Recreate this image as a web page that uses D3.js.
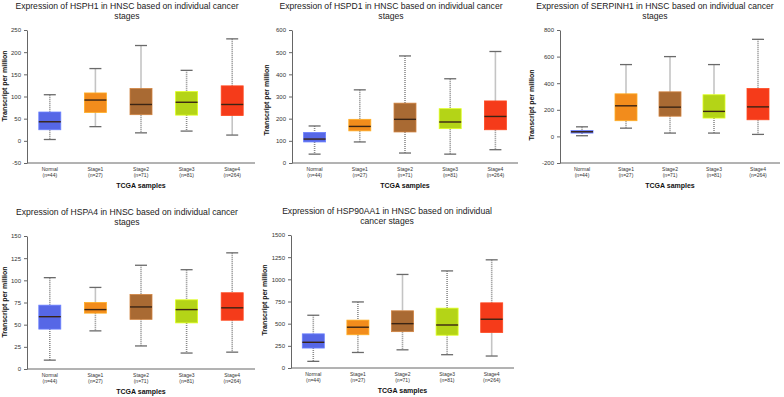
<!DOCTYPE html>
<html>
<head>
<meta charset="utf-8">
<script src="https://cdnjs.cloudflare.com/ajax/libs/d3/7.8.5/d3.min.js"></script>
<style>
    body { margin: 0; background: #fff; }
    svg { display: block; font-family: "Liberation Sans", Arial, sans-serif; }
    .axis path, .axis line { stroke: #666; }
    .axis text { fill: #333; font-size: 6px; }
    .plot-title { font-size: 8.6px; fill: #222; text-anchor: middle; }
    .axis-title { font-size: 7px; font-weight: bold; fill: #111; text-anchor: middle; }
    .stage-label { font-size: 5px; fill: #333; text-anchor: middle; }
</style>
</head>
<body>
<div id="chart"></div>
<script>
// groups on the x axis
const stages = ['Normal', 'Stage1', 'Stage2', 'Stage3', 'Stage4'];
const sampleCounts = ['(n=44)', '(n=27)', '(n=71)', '(n=81)', '(n=264)'];
const stageColors = ['#5667e6', '#f28c1c', '#a96a33', '#b4d417', '#f53b1a'];

// box stats per stage: [min, q1, median, q3, max]
const hsph1Stats = [[3, 25, 43, 65, 104], [32, 64, 92, 108, 163], [18, 59, 82, 118, 215], [22, 58, 87, 111, 159], [13, 57, 82, 124, 230]];
const hspd1Stats = [[40, 95, 108, 138, 167], [95, 145, 165, 197, 330], [45, 140, 197, 270, 483], [40, 155, 185, 245, 380], [60, 150, 210, 280, 503]];
const serpinh1Stats = [[5, 25, 35, 45, 72], [62, 118, 230, 320, 540], [25, 152, 220, 335, 600], [25, 138, 188, 313, 540], [15, 125, 222, 360, 730]];
const hspa4Stats = [[10, 45, 59, 72, 103], [43, 63, 67, 75, 92], [26, 56, 70, 84, 117], [18, 52, 67, 78, 112], [19, 55, 69, 86, 131]];
const hsp90aa1Stats = [[75, 225, 290, 385, 595], [175, 375, 460, 540, 745], [205, 410, 500, 645, 1055], [150, 370, 485, 675, 1095], [135, 400, 550, 735, 1220]];

// y tick values
const hsph1Ticks = [-50, 0, 50, 100, 150, 200, 250];
const hspd1Ticks = [0, 100, 200, 300, 400, 500, 600];
const serpinh1Ticks = [-200, 0, 200, 400, 600, 800];
const hspa4Ticks = [0, 25, 50, 75, 100, 125, 150];
const hsp90aa1Ticks = [0, 250, 500, 750, 1000, 1250, 1500];

const hsph1Title = ['Expression of HSPH1 in HNSC based on individual cancer', 'stages'];
const hspd1Title = ['Expression of HSPD1 in HNSC based on individual cancer', 'stages'];
const serpinh1Title = ['Expression of SERPINH1 in HNSC based on individual cancer', 'stages'];
const hspa4Title = ['Expression of HSPA4 in HNSC based on individual cancer', 'stages'];
const hsp90aa1Title = ['Expression of HSP90AA1 in HNSC based on individual', 'cancer stages'];

class BoxPlot {
    constructor(_config, _data) {
        this.config = {
            svg: _config.svg,
            left: _config.left,
            right: _config.right,
            top: _config.top,
            bottom: _config.bottom,
            titleX: _config.titleX,
            titleY: _config.titleY,
            yLabelX: _config.yLabelX,
            yLabelY: _config.yLabelY,
            boxWidth: _config.boxWidth || 22,
            capWidth: _config.capWidth || 12
        }
        this.data = _data;
        this.initVis();
    }

    initVis() {
        const vis = this;
        const c = vis.config;

        vis.chart = c.svg.append('g');

        vis.xScale = d3.scaleBand()
            .domain(stages)
            .range([c.left, c.right]);

        vis.yScale = d3.scaleLinear()
            .domain(d3.extent(vis.data.ticks))
            .range([c.bottom, c.top]);

        vis.colorScale = d3.scaleOrdinal()
            .domain(stages)
            .range(stageColors);

        vis.yAxis = d3.axisLeft(vis.yScale)
            .tickValues(vis.data.ticks)
            .tickSize(3)
            .tickSizeOuter(0)
            .tickPadding(3)
            .tickFormat(d => d);

        vis.yAxisG = vis.chart.append('g')
            .attr('class', 'axis y-axis')
            .attr('transform', `translate(${c.left},0)`);

        vis.chart.append('line')
            .attr('class', 'x-axis-line')
            .attr('x1', c.left)
            .attr('x2', c.right)
            .attr('y1', c.bottom)
            .attr('y2', c.bottom)
            .attr('stroke', '#666');

        vis.chart.selectAll('.plot-title')
            .data(vis.data.title)
            .join('text')
            .attr('class', 'plot-title')
            .attr('x', c.titleX)
            .attr('y', (d, i) => c.titleY + i * 9.5)
            .text(d => d);

        vis.chart.append('text')
            .attr('class', 'axis-title')
            .attr('transform', `translate(${c.yLabelX},${c.yLabelY}) rotate(-90)`)
            .attr('dy', '0.35em')
            .text('Transcript per million');

        vis.chart.append('text')
            .attr('class', 'axis-title')
            .attr('x', (c.left + c.right) / 2)
            .attr('y', c.bottom + 25)
            .text('TCGA samples');

        vis.updateVis();
    }

    updateVis() {
        const vis = this;
        vis.boxes = stages.map((s, i) => {
            const [min, q1, median, q3, max] = vis.data.stats[i];
            return {stage: s, n: sampleCounts[i], min, q1, median, q3, max};
        });
        vis.renderVis();
    }

    renderVis() {
        const vis = this;
        const c = vis.config;
        const cx = d => vis.xScale(d.stage) + vis.xScale.bandwidth() / 2;

        const g = vis.chart.selectAll('.box')
            .data(vis.boxes)
            .join('g')
            .attr('class', 'box');

        // whiskers
        g.append('line')
            .attr('x1', cx).attr('x2', cx)
            .attr('y1', d => vis.yScale(d.max))
            .attr('y2', d => vis.yScale(d.q3))
            .attr('stroke', '#8a8a8a')
            .attr('stroke-width', 1.6)
            .attr('stroke-dasharray', '1,1');

        g.append('line')
            .attr('x1', cx).attr('x2', cx)
            .attr('y1', d => vis.yScale(d.q1))
            .attr('y2', d => vis.yScale(d.min))
            .attr('stroke', '#8a8a8a')
            .attr('stroke-width', 1.6)
            .attr('stroke-dasharray', '1,1');

        // caps
        ['min', 'max'].forEach(k => {
            g.append('line')
                .attr('x1', d => cx(d) - c.capWidth / 2)
                .attr('x2', d => cx(d) + c.capWidth / 2)
                .attr('y1', d => vis.yScale(d[k]))
                .attr('y2', d => vis.yScale(d[k]))
                .attr('stroke', '#6a6a6a')
                .attr('stroke-width', 1.3);
        });

        g.append('rect')
            .attr('x', d => cx(d) - c.boxWidth / 2)
            .attr('width', c.boxWidth)
            .attr('y', d => vis.yScale(d.q3))
            .attr('height', d => vis.yScale(d.q1) - vis.yScale(d.q3))
            .attr('fill', d => vis.colorScale(d.stage))
            .attr('stroke', d => d3.color(vis.colorScale(d.stage)).brighter(0.6))
            .attr('stroke-width', 0.8);

        g.append('line')
            .attr('x1', d => cx(d) - c.boxWidth / 2)
            .attr('x2', d => cx(d) + c.boxWidth / 2)
            .attr('y1', d => vis.yScale(d.median))
            .attr('y2', d => vis.yScale(d.median))
            .attr('stroke', '#3a2414')
            .attr('stroke-width', 1.4);

        // stage labels under the axis
        g.append('text')
            .attr('class', 'stage-label')
            .attr('x', cx)
            .attr('y', c.bottom + 8)
            .text(d => d.stage);

        g.append('text')
            .attr('class', 'stage-label')
            .attr('x', cx)
            .attr('y', c.bottom + 14)
            .text(d => d.n);

        vis.yAxisG.call(vis.yAxis);
        vis.yAxisG.select('.domain').attr('stroke', '#666');
    }
}

const svg = d3.select('#chart').append('svg')
    .attr('width', 784)
    .attr('height', 397);

new BoxPlot({svg, left: 27, right: 255, top: 30, bottom: 163, titleX: 127, titleY: 9, yLabelX: 5, yLabelY: 86},
    {stats: hsph1Stats, ticks: hsph1Ticks, title: hsph1Title});
new BoxPlot({svg, left: 292, right: 518, top: 30, bottom: 163, titleX: 391, titleY: 9, yLabelX: 267, yLabelY: 100},
    {stats: hspd1Stats, ticks: hspd1Ticks, title: hspd1Title});
new BoxPlot({svg, left: 560, right: 780, top: 30, bottom: 163, titleX: 655, titleY: 9, yLabelX: 532, yLabelY: 105},
    {stats: serpinh1Stats, ticks: serpinh1Ticks, title: serpinh1Title});
new BoxPlot({svg, left: 27, right: 255, top: 236, bottom: 369, titleX: 127, titleY: 215, yLabelX: 5, yLabelY: 302},
    {stats: hspa4Stats, ticks: hspa4Ticks, title: hspa4Title});
new BoxPlot({svg, left: 291, right: 514, top: 235, bottom: 368, titleX: 387, titleY: 214, yLabelX: 265, yLabelY: 300},
    {stats: hsp90aa1Stats, ticks: hsp90aa1Ticks, title: hsp90aa1Title});
</script>
</body>
</html>
